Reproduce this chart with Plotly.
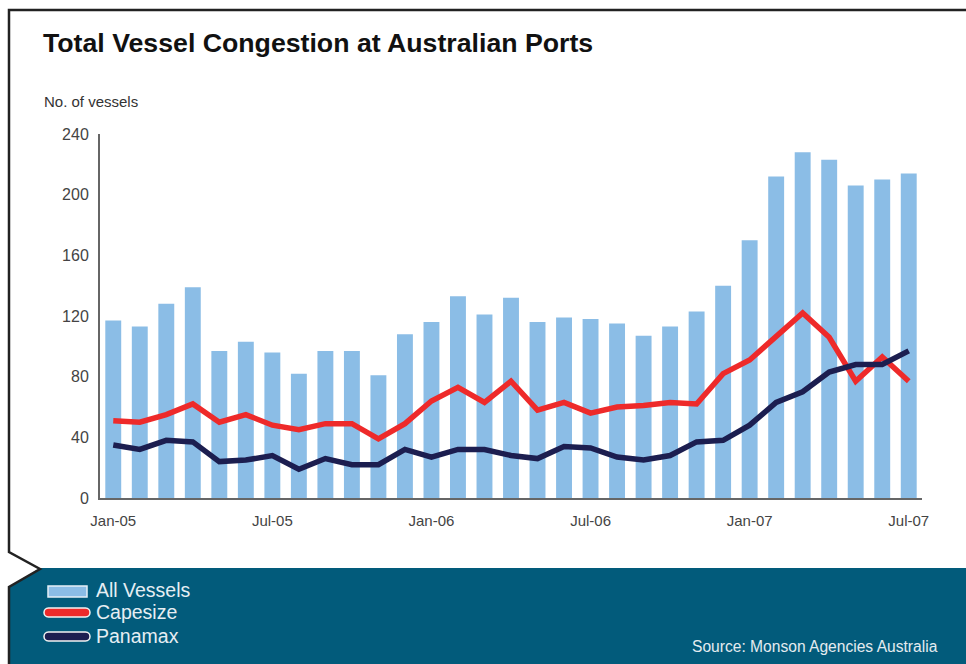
import pandas as pd
import plotly.graph_objects as go

# Monthly observations, Jan-05 .. Jul-07
months = pd.date_range("2005-01-01", "2007-07-01", freq="MS").strftime("%b-%y").tolist()

all_vessels = [117, 113, 128, 139, 97, 103, 96, 82, 97, 97,
               81, 108, 116, 133, 121, 132, 116, 119, 118, 115,
               107, 113, 123, 140, 170, 212, 228, 223, 206, 210, 214]
capesize = [51, 50, 55, 62, 50, 55, 48, 45, 49, 49,
            39, 49, 64, 73, 63, 77, 58, 63, 56, 60,
            61, 63, 62, 82, 91, 106, 122, 106, 77, 93, 77]
panamax = [35, 32, 38, 37, 24, 25, 28, 19, 26, 22,
           22, 32, 27, 32, 32, 28, 26, 34, 33, 27,
           25, 28, 37, 38, 48, 63, 70, 83, 88, 88, 97]

tick_labels = ["Jan-05", "Jul-05", "Jan-06", "Jul-06", "Jan-07", "Jul-07"]
y_ticks = [0, 40, 80, 120, 160, 200, 240]

BAR = "#8bbde6"
RED = "#ee2a2a"
NAVY = "#1c1e50"
TEAL = "#025b7b"
FONT = "Liberation Sans, Arial, sans-serif"

# plot-area geometry in pixels (used to place decorations)
WIDTH, HEIGHT = 966, 664
L, R, T, B = 100, 922, 134, 498
PW, PH = R - L, B - T


def px(x):
    return (x - L) / PW


def py(y):
    return (B - y) / PH


def path(points, close=True):
    s = "M " + " L ".join(f"{px(x):.5f},{py(y):.5f}" for x, y in points)
    return s + (" Z" if close else "")


def pill(x0, x1, yc, r):
    k = 4 * r / 3
    return (f"M {px(x0 + r):.5f},{py(yc - r):.5f} "
            f"L {px(x1 - r):.5f},{py(yc - r):.5f} "
            f"C {px(x1 - r + k):.5f},{py(yc - r):.5f} {px(x1 - r + k):.5f},{py(yc + r):.5f} {px(x1 - r):.5f},{py(yc + r):.5f} "
            f"L {px(x0 + r):.5f},{py(yc + r):.5f} "
            f"C {px(x0 + r - k):.5f},{py(yc + r):.5f} {px(x0 + r - k):.5f},{py(yc - r):.5f} {px(x0 + r):.5f},{py(yc - r):.5f} Z")


fig = go.Figure()
fig.add_trace(go.Bar(x=months, y=all_vessels, name="All Vessels",
                     marker=dict(color=BAR, line=dict(width=0))))
fig.add_trace(go.Scatter(x=months, y=capesize, name="Capesize", mode="lines",
                         line=dict(color=RED, width=5.5)))
fig.add_trace(go.Scatter(x=months, y=panamax, name="Panamax", mode="lines",
                         line=dict(color=NAVY, width=5.5)))

shapes = [
    # footer band with the notch on its left edge
    dict(type="path", xref="paper", yref="paper",
         path=path([(40, 568), (WIDTH + 5, 568), (WIDTH + 5, HEIGHT + 5), (9, HEIGHT + 5), (9, 587)]),
         fillcolor=TEAL, line=dict(width=0), layer="below"),
    # frame
    dict(type="path", xref="paper", yref="paper",
         path=path([(WIDTH + 5, 10), (9, 10), (9, 552), (40, 569), (9, 587), (9, HEIGHT + 5)], close=False),
         line=dict(color="#222222", width=2.5)),
    # legend keys
    dict(type="rect", xref="paper", yref="paper",
         x0=px(48), x1=px(87), y0=py(597), y1=py(586),
         fillcolor=BAR, line=dict(color="#e6f0f7", width=1.5)),
    dict(type="path", xref="paper", yref="paper", path=pill(44, 90, 612.5, 4.5),
         fillcolor=RED, line=dict(color="#f2f2f2", width=1.5)),
    dict(type="path", xref="paper", yref="paper", path=pill(44, 90, 636.5, 4.5),
         fillcolor=NAVY, line=dict(color="#f2f2f2", width=1.5)),
]

LEG = dict(size=19.5, color="#e6eef3")
annotations = [
    dict(text="<b>Total Vessel Congestion at Australian Ports</b>", x=px(41), y=py(42.5),
         font=dict(size=26.7, color="#111111")),
    dict(text="No. of vessels", x=px(42), y=py(101), font=dict(size=15, color="#333333")),
    dict(text="All Vessels", x=px(94), y=py(590), font=LEG),
    dict(text="Capesize", x=px(94), y=py(612), font=LEG),
    dict(text="Panamax", x=px(94), y=py(635.5), font=LEG),
    dict(text="Source: Monson Agencies Australia", x=px(940), y=py(646), xanchor="right",
         font=dict(size=15.6, color="#e4ebf0")),
]
for a in annotations:
    a.setdefault("xanchor", "left")
    a.update(xref="paper", yref="paper", yanchor="middle", showarrow=False)

fig.update_layout(
    width=WIDTH, height=HEIGHT,
    margin=dict(l=L, r=WIDTH - R, t=T, b=HEIGHT - B, pad=0),
    paper_bgcolor="white", plot_bgcolor="white",
    font=dict(family=FONT, color="#444444"),
    showlegend=False, bargap=0.4,
    shapes=shapes, annotations=annotations,
)
fig.update_xaxes(type="category", categoryorder="array", categoryarray=months,
                 tickvals=tick_labels, ticktext=tick_labels, range=[-0.5, len(months) - 0.5],
                 showgrid=False, zeroline=False, showline=True, linecolor="#666666", linewidth=2,
                 ticks="", tickfont=dict(size=15, color="#444444"), ticklabelstandoff=8)
fig.update_yaxes(range=[0, 240], tickvals=y_ticks, showgrid=False, zeroline=False,
                 showline=True, linecolor="#666666", linewidth=2, ticks="",
                 tickfont=dict(size=16, color="#444444"), ticklabelstandoff=6)

fig.write_html("out.html")
